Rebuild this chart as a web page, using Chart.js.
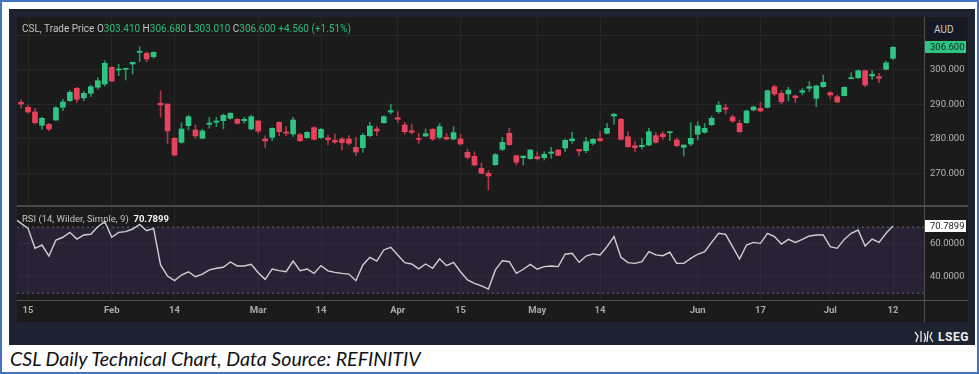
<!DOCTYPE html>
<html lang="en">
<head>
<meta charset="UTF-8">
<title>CSL Daily Technical Chart</title>
<script src="https://cdn.jsdelivr.net/npm/chart.js@4.4.1/dist/chart.umd.min.js"></script>
<style>
    html, body { margin: 0; padding: 0; background: #fff; }
    body { width: 979px; height: 374px; position: relative; overflow: hidden; font-family: Roboto, "Noto Sans", sans-serif; }
    .frame { position: absolute; left: 0; top: 0; width: 975px; height: 370px; border: 2px solid #4472c4; }
    .panel { position: absolute; left: 9px; top: 9px; width: 966px; height: 336px; background: #1e2331; }
    .chartbg { position: absolute; left: 17px; top: 17px; width: 951px; height: 305px; background: #1b1b1b; }
    canvas { position: absolute; left: 17px; }
    #priceCanvas { top: 17px; }
    #rsiCanvas { top: 207px; }
    .hline { position: absolute; left: 17px; width: 951px; background: #4a4a4a; }
    .vline { position: absolute; left: 924px; top: 17px; width: 1px; height: 305px; background: #4e4e4e; }
    .legend { position: absolute; left: 22px; font-size: 10px; color: #c3c3c3; white-space: nowrap; }
    .legend .v { color: #2bbd7e; }
    .legend b { color: #f2f2f2; }
    .aud { position: absolute; left: 927px; top: 21px; width: 38px; height: 18px; background: #141925; border-radius: 3px;
           color: #c9ccd4; font-size: 10px; line-height: 18px; text-indent: 7px; }
    .lseg { position: absolute; left: 938px; top: 330px; color: #f0f0f0; font-size: 12px; font-weight: bold; letter-spacing: 0.5px; }
    .logo { position: absolute; left: 913px; top: 330px; }
    .caption { position: absolute; left: 10px; top: 347px; font-family: Lato, "Open Sans", sans-serif; font-style: italic; font-size: 19.6px; color: #111; }
</style>
</head>
<body>
<div class="frame"></div>
<div class="panel"></div>
<div class="chartbg"></div>

<canvas id="priceCanvas" width="951" height="189"></canvas>
<canvas id="rsiCanvas" width="951" height="115"></canvas>

<div class="hline" style="top:205px;height:2px;"></div>
<div class="hline" style="top:300px;height:1px;background:#555;"></div>
<div class="vline"></div>

<div class="legend" style="top:23px;">CSL, Trade Price&nbsp;O<span class="v">303.410</span>&nbsp;H<span class="v">306.680</span>&nbsp;L<span class="v">303.010</span>&nbsp;C<span class="v">306.600</span>&nbsp;<span class="v">+4.560 (+1.51%)</span></div>
<div class="legend" style="top:213px;font-size:9.5px;">RSI (14, Wilder, Simple, 9)&nbsp; <b>70.7899</b></div>
<div class="aud">AUD</div>

<svg class="logo" width="22" height="14" viewBox="0 0 22 14">
    <g fill="none" stroke="#e6e6e6" stroke-width="1.3">
        <path d="M2 2 L5 6 L3 12"/><path d="M8 1 L8 12"/><path d="M11 3 C13 6 13 9 11 12"/><path d="M15 1 L14 12"/><path d="M19 2 L17 7 L20 12"/>
    </g>
</svg>
<div class="lseg">LSEG</div>

<div class="caption">CSL Daily Technical Chart, Data Source: REFINITIV</div>

<script>
// trading day index 0 = 15 Jan 2024, first candle is the session before
const firstDay = -1;
const opens = [290.64,289.19,287.83,283.97,284.26,285.51,289.19,291.10,294.70,291.88,293.25,294.99,295.94,300.78,300.00,300.20,301.74,305.13,304.84,303.86,
    290.35,290.14,280.20,279.04,283.85,282.61,280.20,284.26,284.84,285.30,286.00,285.71,285.30,282.90,285.22,280.00,280.49,284.84,282.03,281.45,
    281.25,280.38,283.28,280.38,280.29,279.62,280.00,280.00,277.59,277.48,280.96,282.90,284.72,287.83,286.17,284.06,282.41,280.20,280.87,282.81,
    280.49,280.49,280.00,280.00,276.14,274.98,271.51,270.06,272.55,277.01,281.65,275.16,274.58,274.29,274.87,274.58,275.85,276.81,277.39,279.51,
    277.01,276.61,278.75,280.09,281.65,286.67,285.71,280.67,278.06,277.77,278.26,280.96,281.45,281.83,279.71,277.59,278.55,281.36,281.94,284.14,
    287.91,289.07,286.38,284.55,284.72,288.41,288.90,289.19,295.16,293.25,293.04,292.46,293.54,294.70,291.80,295.16,293.42,292.26,292.55,297.48,
    297.77,299.80,298.26,298.06,300.20,303.41];
const highs = [291.30,289.86,288.90,286.29,284.55,289.36,291.51,294.00,294.99,293.71,295.65,297.77,302.70,300.96,301.65,300.49,302.23,306.75,305.30,305.30,
    294.00,290.14,280.49,284.72,286.96,284.06,282.81,286.29,286.29,287.25,287.62,286.00,286.29,286.96,285.51,280.96,283.28,285.01,283.57,286.29,
    281.65,282.12,283.57,283.10,281.16,281.45,280.49,280.96,280.49,281.65,284.84,283.57,286.75,290.06,287.91,284.84,284.35,281.65,282.90,283.10,
    284.55,281.65,283.57,281.36,277.01,276.32,272.96,270.81,275.85,280.49,283.10,275.36,275.07,277.01,276.32,276.32,277.59,277.01,279.91,281.94,
    277.01,280.49,280.20,282.12,284.55,287.45,286.00,282.12,279.22,280.20,283.10,281.94,282.12,282.12,280.20,278.26,284.72,285.01,284.55,286.67,
    290.81,290.14,286.96,285.51,288.41,289.57,290.64,294.20,295.65,294.00,294.99,292.75,294.70,296.61,295.65,298.55,293.71,292.75,295.16,299.22,
    300.00,300.00,299.80,299.04,302.61,306.68];
const lows = [288.90,287.45,284.35,282.81,282.41,285.30,288.20,290.81,290.52,291.10,292.26,294.41,295.36,296.61,298.35,297.10,298.84,302.41,302.41,303.39,
    286.29,278.75,275.07,278.75,282.61,280.20,280.20,283.10,283.57,282.99,285.71,284.35,284.55,282.61,281.65,277.48,279.51,280.96,280.96,280.67,
    279.22,280.20,279.71,280.20,278.26,278.75,276.81,278.26,275.16,276.14,280.67,280.96,284.55,287.25,284.72,281.45,281.45,278.75,280.67,279.51,
    280.00,279.71,279.71,278.26,274.20,272.17,269.86,265.22,272.38,276.61,278.17,272.46,272.46,274.12,273.91,273.91,274.41,275.07,276.32,278.75,
    275.07,276.03,278.26,279.22,281.45,284.26,279.71,277.59,276.32,277.10,278.06,278.75,279.91,279.51,277.77,275.07,278.06,279.71,281.65,283.85,
    287.45,287.25,284.72,281.83,284.55,288.12,287.91,288.90,292.55,290.14,291.01,290.52,292.75,293.71,289.36,294.99,291.80,290.52,292.46,297.48,
    297.59,295.16,297.30,296.32,300.00,303.01];
const closes = [290.14,287.83,284.72,286.00,282.90,289.07,290.72,293.54,291.51,293.25,295.16,296.90,301.94,296.81,300.29,300.49,302.23,305.42,303.19,305.13,
    289.86,282.32,275.36,282.90,286.46,280.87,282.32,284.64,285.22,286.87,287.45,284.55,285.71,286.46,282.32,279.42,283.10,282.12,281.65,285.51,
    279.51,281.94,279.91,282.81,279.80,279.13,278.93,278.75,276.23,281.07,283.77,282.32,286.46,288.20,285.71,282.12,281.94,279.91,281.54,280.00,
    283.57,280.00,281.83,278.55,274.69,272.46,270.06,269.28,275.45,279.04,278.35,273.25,275.07,276.81,274.29,275.57,276.23,275.28,279.62,280.00,
    276.52,279.22,279.91,279.51,283.10,287.16,279.91,277.77,277.48,278.17,282.12,279.04,280.67,282.12,278.06,278.26,280.20,283.77,283.10,286.00,
    289.77,288.61,285.22,282.12,288.12,289.28,288.12,294.00,293.04,290.81,294.20,291.97,294.00,295.16,295.36,296.43,292.75,290.72,294.99,297.77,
    299.80,295.65,298.75,297.59,302.04,306.60];

// RSI(14) starts one session earlier than the candles
const rsiFirstDay = -2;
const rsi = [75.4,72.3,69.3,57.2,59.2,52.5,62.2,63.9,66.9,62.8,65.3,65.7,70.3,73.4,63.9,66.9,67.3,68.9,71.7,67.9,
    69.3,47.1,40.4,37.6,41.0,43.0,40.0,41.6,44.1,45.1,45.7,48.9,46.5,46.5,47.5,42.4,38.4,44.7,43.7,43.0,
    49.5,43.7,44.7,42.0,46.7,43.5,42.6,42.0,41.6,37.6,47.1,51.7,49.5,56.2,57.8,53.2,48.5,47.7,44.7,47.7,
    45.1,50.9,46.7,48.7,43.0,38.0,36.0,34.4,32.5,44.1,49.7,49.1,42.0,44.5,47.5,44.5,46.1,46.5,46.1,53.6,
    54.2,48.7,52.5,53.8,53.2,58.2,64.3,51.7,48.5,48.1,49.1,55.2,53.2,52.7,54.8,48.1,48.1,51.1,53.6,55.2,
    60.8,66.3,65.7,58.2,50.7,59.2,60.8,60.2,66.3,64.3,59.8,62.6,60.8,62.6,64.7,65.3,65.3,58.2,57.2,62.6,
    66.3,68.3,58.6,62.8,60.8,66.3,70.7899];

const tickDays = [0, 12, 21, 33, 42, 53, 62, 73, 82, 96, 105, 115, 124];
const tickLabels = ['15', 'Feb', '14', 'Mar', '14', 'Apr', '15', 'May', '14', 'Jun', '17', 'Jul', '12'];
const priceTicks = [270, 280, 290, 300, 310];
const rsiTicks = [40, 60];
const rsiBands = [70, 30];

const UP = '#2fc384';
const DOWN = '#e8435d';
const UP_WICK = '#24935f';
const DOWN_WICK = '#b23549';
const GRID = '#272727';
const FONT = 'Roboto, "Noto Sans", sans-serif';

const X_MIN = -1.58;
const X_MAX = 128.44;

Chart.defaults.font.family = FONT;

const isUp = k => closes[k] >= opens[k];

// no label overflow padding, so the plot fills the canvas exactly
const noPad = s => { s.paddingTop = 0; s.paddingBottom = 0; s.paddingLeft = 0; s.paddingRight = 0; };

const lastTag = {
    id: 'lastTag',
    afterDraw(chart, args, opts) {
        const y = Math.round(chart.scales.y.getPixelForValue(opts.value));
        const x = chart.chartArea.right + 1;
        const c = chart.ctx;
        c.save();
        c.fillStyle = opts.bg;
        c.fillRect(x, y - 6, 41, 12);
        c.fillStyle = opts.color;
        c.font = '9.5px ' + FONT;
        c.textBaseline = 'middle';
        c.fillText(opts.text, x + 5, y + 0.5);
        c.restore();
    }
};

const xScale = (showLabels) => ({
    type: 'linear',
    min: X_MIN,
    max: X_MAX,
    offset: false,
    grid: { color: GRID, drawTicks: false, offset: false },
    border: { display: false },
    ticks: {
        display: showLabels,
        autoSkip: false,
        maxRotation: 0,
        color: '#a9a9a9',
        font: { size: 9.5, weight: 'bold' },
        padding: 5,
        callback: (v, i) => tickLabels[i]
    },
    afterBuildTicks: s => { s.ticks = tickDays.map(v => ({ value: v })); },
    afterFit: s => { s.height = showLabels ? 22 : 0; noPad(s); }
});

const yScale = (min, max, ticks, digits) => ({
    position: 'right',
    min: min,
    max: max,
    grid: { color: GRID, drawTicks: false },
    border: { display: false },
    ticks: { color: '#b5b5b5', font: { size: 9.5 }, padding: 6, callback: v => v.toFixed(digits) },
    afterBuildTicks: s => { s.ticks = ticks.map(v => ({ value: v })); },
    afterFit: s => { s.width = 44; noPad(s); }
});

new Chart(document.getElementById('priceCanvas'), {
    type: 'bar',
    data: {
        datasets: [
            {
                label: 'body',
                data: opens.map((o, k) => ({ x: firstDay + k, y: [o, closes[k]] })),
                backgroundColor: ctx => isUp(ctx.dataIndex) ? UP : DOWN,
                barThickness: 5,
                minBarLength: 1,
                grouped: false,
                borderWidth: 0
            },
            {
                label: 'wick',
                data: lows.map((l, k) => ({ x: firstDay + k, y: [l, highs[k]] })),
                backgroundColor: ctx => isUp(ctx.dataIndex) ? UP_WICK : DOWN_WICK,
                barThickness: 1,
                grouped: false,
                borderWidth: 0
            }
        ]
    },
    options: {
        responsive: false,
        animation: false,
        layout: { padding: 0 },
        plugins: {
            legend: { display: false },
            tooltip: { enabled: false },
            lastTag: { value: closes[closes.length - 1], text: closes[closes.length - 1].toFixed(3), bg: UP, color: '#0d2a1c' }
        },
        scales: {
            x: xScale(false),
            y: yScale(260.58, 315.36, priceTicks, 3)
        }
    },
    plugins: [lastTag]
});

new Chart(document.getElementById('rsiCanvas'), {
    type: 'line',
    data: {
        datasets: [
            {
                label: 'RSI',
                data: rsi.map((r, k) => ({ x: rsiFirstDay + k, y: r })),
                borderColor: '#d0d0d0',
                borderWidth: 1.4,
                pointRadius: 0,
                tension: 0
            },
            {
                label: 'upper',
                data: [{ x: X_MIN, y: rsiBands[0] }, { x: X_MAX, y: rsiBands[0] }],
                borderColor: '#6c6c74',
                borderWidth: 1,
                borderDash: [2, 3],
                pointRadius: 0,
                fill: '+1',
                backgroundColor: 'rgba(72, 50, 105, 0.32)'
            },
            {
                label: 'lower',
                data: [{ x: X_MIN, y: rsiBands[1] }, { x: X_MAX, y: rsiBands[1] }],
                borderColor: '#6c6c74',
                borderWidth: 1,
                borderDash: [2, 3],
                pointRadius: 0,
                fill: false
            }
        ]
    },
    options: {
        responsive: false,
        animation: false,
        layout: { padding: 0 },
        plugins: {
            legend: { display: false },
            tooltip: { enabled: false },
            lastTag: { value: rsi[rsi.length - 1], text: rsi[rsi.length - 1].toFixed(4), bg: '#ffffff', color: '#222' }
        },
        scales: {
            x: xScale(true),
            y: yScale(25.88, 82.24, rsiTicks, 4)
        }
    },
    plugins: [lastTag]
});
</script>
</body>
</html>
